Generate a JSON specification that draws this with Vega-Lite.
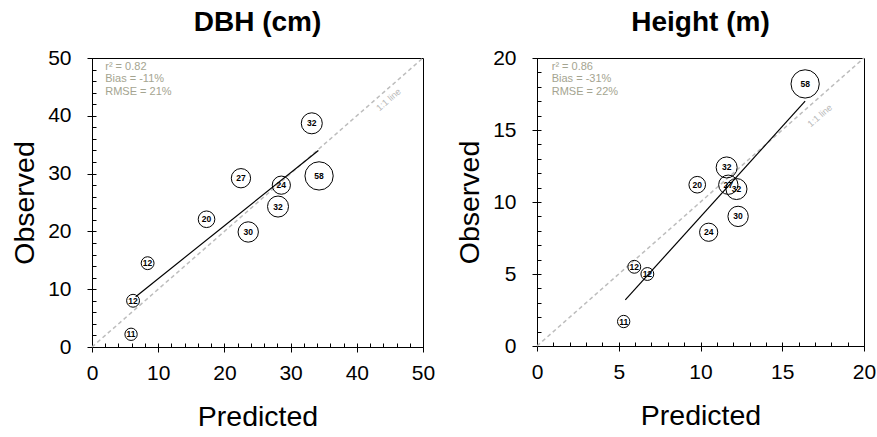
{
  "$schema": "https://vega.github.io/schema/vega-lite/v6.json",
  "background": "white",
  "padding": {"left": 10, "top": 8, "right": 2, "bottom": 2},
  "spacing": 19,
  "config": {
    "font": "Liberation Sans",
    "view": {"stroke": "black", "strokeWidth": 1},
    "axis": {"grid": false, "domainColor": "black", "tickColor": "black", "labelColor": "black", "labelFont": "Liberation Sans", "titleFont": "Liberation Sans", "titleColor": "black", "titleFontWeight": "normal", "labelFontSize": 21, "titleFontSize": 28.5, "labelFlush": false},
    "title": {"font": "Liberation Sans", "fontSize": 28, "fontWeight": "bold", "color": "black", "offset": 10}
  },
  "datasets": {
    "dbh": [
      {"n": 32, "pred": 33.2, "obs": 38.7},
      {"n": 58, "pred": 34.3, "obs": 29.6},
      {"n": 27, "pred": 22.5, "obs": 29.2},
      {"n": 24, "pred": 28.6, "obs": 28.0},
      {"n": 32, "pred": 28.1, "obs": 24.3},
      {"n": 20, "pred": 17.3, "obs": 22.1},
      {"n": 30, "pred": 23.6, "obs": 19.9},
      {"n": 12, "pred": 8.4, "obs": 14.5},
      {"n": 12, "pred": 6.2, "obs": 8.0},
      {"n": 11, "pred": 5.9, "obs": 2.2}
    ],
    "height": [
      {"n": 58, "pred": 16.4, "obs": 18.2},
      {"n": 20, "pred": 9.8, "obs": 11.2},
      {"n": 27, "pred": 11.7, "obs": 11.2},
      {"n": 32, "pred": 11.6, "obs": 12.4},
      {"n": 32, "pred": 12.2, "obs": 10.9},
      {"n": 30, "pred": 12.3, "obs": 9.0},
      {"n": 24, "pred": 10.5, "obs": 7.9},
      {"n": 12, "pred": 5.95, "obs": 5.5},
      {"n": 12, "pred": 6.75, "obs": 5.0},
      {"n": 11, "pred": 5.3, "obs": 1.7}
    ],
    "dbh_fit": [{"pred": 6.6, "obs": 8.7}, {"pred": 34.2, "obs": 34.0}],
    "height_fit": [{"pred": 5.4, "obs": 3.2}, {"pred": 16.4, "obs": 17.0}],
    "dbh_one": [{"pred": 0, "obs": 0}, {"pred": 50, "obs": 50}],
    "height_one": [{"pred": 0, "obs": 0}, {"pred": 20, "obs": 20}]
  },
  "hconcat": [
    {
      "title": "DBH (cm)",
      "width": 331,
      "height": 289,
      "resolve": {"axis": {"x": "independent", "y": "independent"}},
      "layer": [
        {
          "data": {"name": "dbh_one"},
          "mark": {"type": "line", "color": "#bdbdbd", "strokeDash": [4, 3], "strokeWidth": 1.5},
          "encoding": {
            "x": {"field": "pred", "type": "quantitative", "scale": {"domain": [0, 50], "nice": false},
                  "axis": {"orient": "bottom", "values": [0, 10, 20, 30, 40, 50], "tickSize": 5, "labelPadding": 10, "title": "Predicted", "titlePadding": 19}},
            "y": {"field": "obs", "type": "quantitative", "scale": {"domain": [0, 50], "nice": false},
                  "axis": {"orient": "left", "values": [0, 10, 20, 30, 40, 50], "tickSize": 5, "labelPadding": 16, "title": "Observed", "titlePadding": 8}}
          }
        },
        {
          "data": {"name": "dbh_fit"},
          "mark": {"type": "line", "color": "black", "strokeWidth": 1.2},
          "encoding": {
            "x": {"field": "pred", "type": "quantitative",
                  "axis": {"orient": "bottom", "values": [0, 2, 4, 6, 8, 10, 12, 14, 16, 18, 20, 22, 24, 26, 28, 30, 32, 34, 36, 38, 40, 42, 44, 46, 48, 50], "tickSize": -4, "labels": false, "domain": false, "title": null}},
            "y": {"field": "obs", "type": "quantitative",
                  "axis": {"orient": "left", "values": [0, 2, 4, 6, 8, 10, 12, 14, 16, 18, 20, 22, 24, 26, 28, 30, 32, 34, 36, 38, 40, 42, 44, 46, 48, 50], "tickSize": -4, "labels": false, "domain": false, "title": null}}
          }
        },
        {
          "data": {"name": "dbh"},
          "mark": {"type": "point", "shape": "circle", "filled": false, "stroke": "black", "strokeWidth": 1, "opacity": 1},
          "encoding": {
            "x": {"field": "pred", "type": "quantitative", "axis": null},
            "y": {"field": "obs", "type": "quantitative", "axis": null},
            "size": {"field": "n", "type": "quantitative", "scale": {"domain": [0, 58], "range": [0, 800]}, "legend": null}
          }
        },
        {
          "data": {"name": "dbh"},
          "mark": {"type": "text", "fontSize": 8.5, "fontWeight": "bold", "color": "black"},
          "encoding": {
            "x": {"field": "pred", "type": "quantitative", "axis": null},
            "y": {"field": "obs", "type": "quantitative", "axis": null},
            "text": {"field": "n", "type": "quantitative"}
          }
        },
        {
          "data": {"values": [{}]},
          "mark": {"type": "text", "align": "left", "baseline": "top", "fontSize": 11, "lineHeight": 12.5, "color": "#a4a490"},
          "encoding": {
            "x": {"datum": 2, "axis": null},
            "y": {"datum": 49.5, "axis": null},
            "text": {"value": ["r² = 0.82", "Bias = -11%", "RMSE = 21%"]}
          }
        },
        {
          "data": {"values": [{}]},
          "mark": {"type": "text", "align": "center", "baseline": "middle", "fontSize": 9, "angle": -41, "color": "#b8b8b8"},
          "encoding": {
            "x": {"datum": 44.8, "axis": null},
            "y": {"datum": 42.8, "axis": null},
            "text": {"value": "1:1 line"}
          }
        }
      ]
    },
    {
      "title": "Height (m)",
      "width": 327,
      "height": 288,
      "resolve": {"axis": {"x": "independent", "y": "independent"}},
      "layer": [
        {
          "data": {"name": "height_one"},
          "mark": {"type": "line", "color": "#bdbdbd", "strokeDash": [4, 3], "strokeWidth": 1.5},
          "encoding": {
            "x": {"field": "pred", "type": "quantitative", "scale": {"domain": [0, 20], "nice": false},
                  "axis": {"orient": "bottom", "values": [0, 5, 10, 15, 20], "tickSize": 5, "labelPadding": 10, "title": "Predicted", "titlePadding": 19}},
            "y": {"field": "obs", "type": "quantitative", "scale": {"domain": [0, 20], "nice": false},
                  "axis": {"orient": "left", "values": [0, 5, 10, 15, 20], "tickSize": 5, "labelPadding": 16, "title": "Observed", "titlePadding": 8}}
          }
        },
        {
          "data": {"name": "height_fit"},
          "mark": {"type": "line", "color": "black", "strokeWidth": 1.2},
          "encoding": {
            "x": {"field": "pred", "type": "quantitative",
                  "axis": {"orient": "bottom", "values": [0, 1, 2, 3, 4, 5, 6, 7, 8, 9, 10, 11, 12, 13, 14, 15, 16, 17, 18, 19, 20], "tickSize": -4, "labels": false, "domain": false, "title": null}},
            "y": {"field": "obs", "type": "quantitative",
                  "axis": {"orient": "left", "values": [0, 1, 2, 3, 4, 5, 6, 7, 8, 9, 10, 11, 12, 13, 14, 15, 16, 17, 18, 19, 20], "tickSize": -4, "labels": false, "domain": false, "title": null}}
          }
        },
        {
          "data": {"name": "height"},
          "mark": {"type": "point", "shape": "circle", "filled": false, "stroke": "black", "strokeWidth": 1, "opacity": 1},
          "encoding": {
            "x": {"field": "pred", "type": "quantitative", "axis": null},
            "y": {"field": "obs", "type": "quantitative", "axis": null},
            "size": {"field": "n", "type": "quantitative", "scale": {"domain": [0, 58], "range": [0, 800]}, "legend": null}
          }
        },
        {
          "data": {"name": "height"},
          "mark": {"type": "text", "fontSize": 8.5, "fontWeight": "bold", "color": "black"},
          "encoding": {
            "x": {"field": "pred", "type": "quantitative", "axis": null},
            "y": {"field": "obs", "type": "quantitative", "axis": null},
            "text": {"field": "n", "type": "quantitative"}
          }
        },
        {
          "data": {"values": [{}]},
          "mark": {"type": "text", "align": "left", "baseline": "top", "fontSize": 11, "lineHeight": 12.5, "color": "#a4a490"},
          "encoding": {
            "x": {"datum": 0.9, "axis": null},
            "y": {"datum": 19.8, "axis": null},
            "text": {"value": ["r² = 0.86", "Bias = -31%", "RMSE = 22%"]}
          }
        },
        {
          "data": {"values": [{}]},
          "mark": {"type": "text", "align": "center", "baseline": "middle", "fontSize": 9, "angle": -41, "color": "#b8b8b8"},
          "encoding": {
            "x": {"datum": 17.3, "axis": null},
            "y": {"datum": 16.0, "axis": null},
            "text": {"value": "1:1 line"}
          }
        }
      ]
    }
  ]
}
